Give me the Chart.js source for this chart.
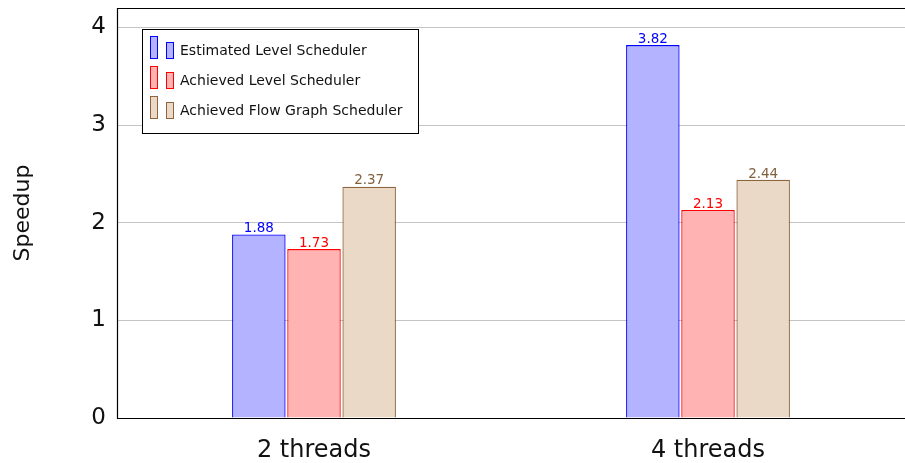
<!DOCTYPE html>
<html>
<head>
<meta charset="utf-8">
<script src="https://cdn.jsdelivr.net/npm/chart.js@4"></script>
<style>
  html, body { margin: 0; padding: 0; background: #fff; }
  #wrap { width: 905px; height: 463px; }
</style>
</head>
<body>
<div id="wrap"><canvas id="speedupChart" width="905" height="463"></canvas></div>
<script>
// datos del grafico
const categories = ['2 threads', '4 threads'];
const seriesNames = ['Estimated Level Scheduler', 'Achieved Level Scheduler', 'Achieved Flow Graph Scheduler'];
const estimatedLevel = [1.88, 3.82];
const achievedLevel = [1.73, 2.13];
const achievedFlowGraph = [2.37, 2.44];
const yTicks = [0, 1, 2, 3, 4];

const FONT = '"DejaVu Sans", sans-serif';
const fills = ['rgb(179,179,255)', 'rgb(255,179,179)', 'rgb(234,217,198)'];
const borders = ['rgb(0,0,255)', 'rgb(255,0,0)', 'rgb(140,100,62)'];
const labelColors = ['rgb(0,0,255)', 'rgb(255,0,0)', 'rgb(130,95,60)'];

// etiquetas de valor encima de cada barra
const valueLabels = {
    id: 'valueLabels',
    afterDatasetsDraw(chart) {
        const ctx = chart.ctx;
        ctx.save();
        ctx.font = '13.5px ' + FONT;
        ctx.textAlign = 'center';
        ctx.textBaseline = 'bottom';
        chart.data.datasets.forEach((ds, i) => {
            chart.getDatasetMeta(i).data.forEach((bar, j) => {
                ctx.fillStyle = labelColors[i];
                ctx.fillText(ds.data[j].toFixed(2), bar.x, bar.y + 1);
            });
        });
        ctx.restore();
    }
};

// marco del area y leyenda dentro de la grafica
const frameAndLegend = {
    id: 'frameAndLegend',
    afterDraw(chart) {
        const ctx = chart.ctx;
        const a = chart.chartArea;
        ctx.save();
        ctx.strokeStyle = '#000';
        ctx.lineWidth = 1.2;
        ctx.beginPath();
        ctx.moveTo(a.right + 2, a.top + 0.5);
        ctx.lineTo(a.left + 0.5, a.top + 0.5);
        ctx.lineTo(a.left + 0.5, a.bottom + 0.5);
        ctx.lineTo(a.right + 2, a.bottom + 0.5);
        ctx.stroke();

        // leyenda
        const bx = 142, by = 29, bw = 276, bh = 104;
        ctx.fillStyle = '#fff';
        ctx.fillRect(bx, by, bw, bh);
        ctx.lineWidth = 1;
        ctx.strokeStyle = '#000';
        ctx.strokeRect(bx + 0.5, by + 0.5, bw, bh);
        ctx.font = '14px ' + FONT;
        ctx.textBaseline = 'middle';
        ctx.textAlign = 'left';
        seriesNames.forEach((name, i) => {
            const cy = 48 + i * 30;
            ctx.fillStyle = fills[i];
            ctx.strokeStyle = borders[i];
            ctx.fillRect(150, cy - 12, 8, 23);
            ctx.strokeRect(150.5, cy - 11.5, 7, 22);
            ctx.fillRect(166, cy - 6, 8, 17);
            ctx.strokeRect(166.5, cy - 5.5, 7, 16);
            ctx.fillStyle = '#111';
            ctx.fillText(name, 180, cy + 3);
        });
        ctx.restore();
    }
};

const seriesData = [estimatedLevel, achievedLevel, achievedFlowGraph];

new Chart(document.getElementById('speedupChart').getContext('2d'), {
    type: 'bar',
    data: {
        labels: categories,
        datasets: seriesData.map((d, i) => ({
            label: seriesNames[i],
            data: d,
            backgroundColor: fills[i],
            borderColor: borders[i],
            borderWidth: 1.3,
            categoryPercentage: 0.42,
            barPercentage: 0.97
        }))
    },
    options: {
        responsive: false,
        animation: false,
        devicePixelRatio: 1,
        layout: { padding: { top: 8, right: -3, bottom: 0, left: 0 } },
        plugins: {
            legend: { display: false },
            tooltip: { enabled: false }
        },
        scales: {
            y: {
                min: 0,
                max: 4.2,
                afterBuildTicks: (s) => { s.ticks = yTicks.map(v => ({ value: v })); },
                afterFit: (s) => { s.width = 117; s.paddingTop = 0; s.paddingBottom = 0; },
                border: { display: false },
                grid: { color: '#c4c4c4', lineWidth: 1, drawTicks: false },
                ticks: {
                    color: '#111',
                    padding: 11,
                    font: { family: FONT, size: 23 }
                },
                title: {
                    display: true,
                    text: 'Speedup',
                    color: '#111',
                    padding: { top: 10, bottom: 0 },
                    font: { family: FONT, size: 22 }
                }
            },
            x: {
                afterFit: (s) => { s.height = 45; },
                border: { display: false },
                grid: { display: false, drawTicks: false },
                ticks: {
                    color: '#111',
                    padding: 18,
                    font: { family: FONT, size: 24 }
                }
            }
        }
    },
    plugins: [valueLabels, frameAndLegend]
});
</script>
</body>
</html>
